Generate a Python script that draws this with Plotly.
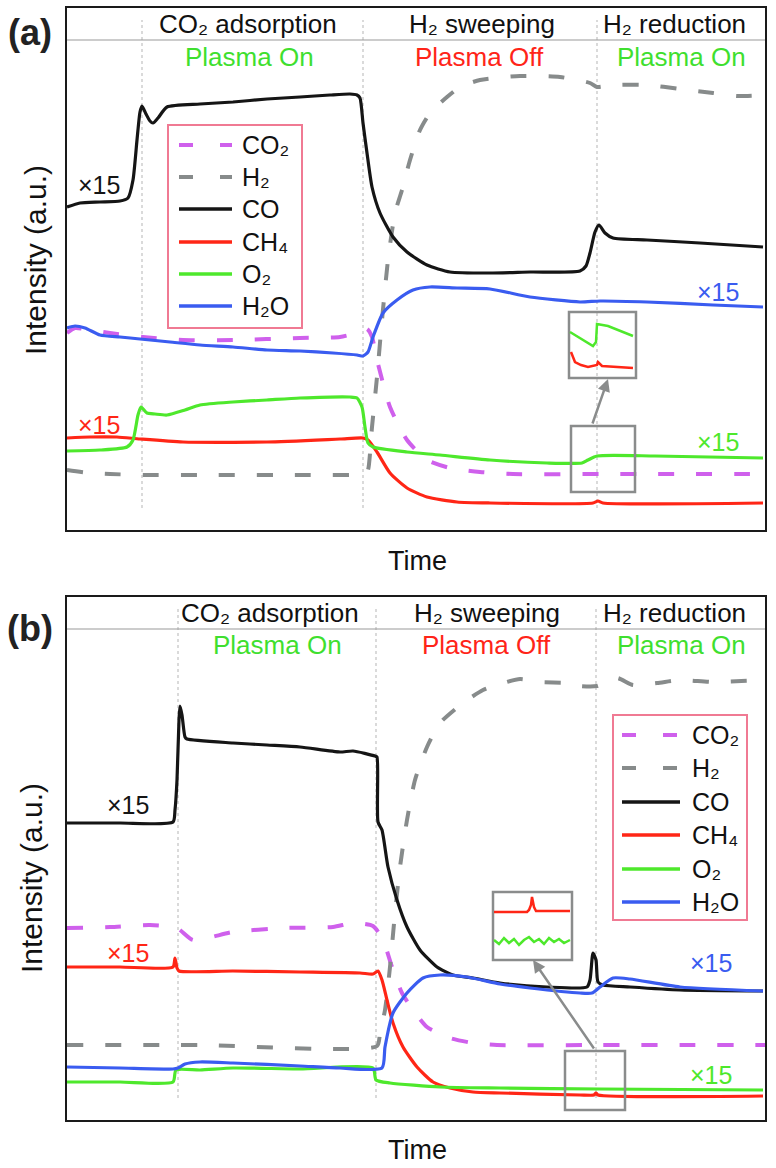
import plotly.graph_objects as go

# ---------------- Panel (a) data: time (a.u.) / intensity (a.u.) ----------------
A_CO2_T = [0, 8, 23, 43, 76, 116, 166, 233, 273, 293, 300, 305, 310, 323, 340, 360, 383, 413, 446, 533, 698]
A_CO2_V = [197, 202, 200, 197, 193, 190, 190, 192, 193, 198, 201, 193, 170, 123, 90, 70, 62, 58, 56, 56, 56]

A_H2_T = [0, 23, 43, 76, 133, 233, 283, 298, 301, 305, 310, 315, 321, 328, 335, 343, 353, 363, 380, 393,
          413, 453, 493, 523, 530, 546, 580, 613, 646, 670, 698]
A_H2_V = [60, 57, 56, 55, 55, 55, 55, 56, 60, 103, 153, 210, 270, 317, 340, 370, 400, 417, 433, 443,
          450, 454, 453, 447, 443, 445, 445, 441, 437, 434, 435]

A_CO_T = [0, 13, 33, 53, 61, 66, 70, 73, 75, 79, 83, 86, 91, 100, 133, 166, 200, 233, 263, 283,
          290, 293, 296, 300, 305, 313, 326, 340, 360, 383, 423, 463, 513, 519, 523, 528, 532, 538, 546, 580,
          633, 696]
A_CO_V = [323, 327, 328, 329, 332, 350, 390, 418, 424, 416, 409, 407, 412, 423, 426, 428, 431, 433, 435, 436,
          435, 432, 407, 377, 343, 317, 293, 278, 265, 258, 257, 258, 259, 264, 277, 298, 305, 297, 292, 290,
          287, 283]

A_CH4_T = [0, 23, 50, 73, 116, 200, 273, 296, 301, 310, 323, 340, 360, 390, 423, 526, 531, 536, 696]
A_CH4_V = [92, 93, 93, 91, 88, 88, 91, 92, 90, 78, 57, 42, 33, 28, 27, 27, 29, 27, 27]

A_O2_T = [0, 33, 60, 66, 71, 74, 80, 88, 100, 118, 133, 166, 200, 233, 283, 290, 295, 298, 301, 306,
          340, 373, 423, 480, 515, 521, 530, 588, 696]
A_O2_V = [79, 80, 83, 90, 115, 123, 117, 116, 115, 120, 125, 128, 130, 132, 133, 132, 123, 103, 87, 83,
          78, 75, 70, 67, 67, 70, 74, 74, 72]

A_H2O_T = [0, 8, 18, 33, 53, 73, 103, 133, 166, 200, 233, 266, 290, 296, 301, 306, 316, 330, 346, 363,
           390, 423, 463, 513, 533, 580, 646, 696]
A_H2O_V = [202, 204, 202, 195, 193, 191, 188, 185, 183, 180, 179, 177, 175, 174, 178, 193, 217, 230, 240, 243,
           242, 241, 233, 228, 229, 228, 225, 223]

# magnified inset (a)
A_INSET_O2_T = [503, 526, 529, 530, 541, 566]
A_INSET_O2_V = [198, 184, 188, 206, 204, 194]
A_INSET_CH4_T = [504, 508, 514, 521, 530, 531, 535, 566]
A_INSET_CH4_V = [178, 168, 165, 163, 165, 168, 164, 162]

# ---------------- Panel (b) data ----------------
B_CO2_T = [0, 43, 83, 110, 126, 166, 216, 266, 286, 306, 316, 325, 335, 346, 360, 383, 406, 430, 533, 698]
B_CO2_V = [192, 193, 195, 192, 180, 188, 192, 193, 197, 194, 180, 153, 127, 110, 93, 82, 77, 75, 75, 75]

B_H2_T = [0, 133, 310, 313, 318, 323, 328, 333, 340, 348, 360, 373, 396, 416, 433, 453, 473, 500, 513, 530,
          550, 566, 590, 613, 646, 698]
B_H2_V = [75, 75, 74, 87, 110, 153, 207, 253, 300, 340, 373, 397, 417, 430, 436, 441, 438, 437, 434, 434,
          442, 435, 437, 440, 438, 440]

B_CO_T = [0, 53, 106, 108, 110, 112, 113, 115, 118, 120, 166, 200, 233, 273, 286, 308, 310, 311, 315, 321,
          330, 340, 353, 370, 386, 406, 433, 480, 520, 523, 526, 529, 531, 536, 563, 613, 696]
B_CO_V = [297, 297, 298, 310, 340, 400, 414, 405, 383, 381, 377, 375, 373, 368, 369, 364, 363, 298, 290, 253,
          220, 193, 170, 153, 145, 142, 137, 133, 133, 140, 167, 160, 138, 135, 133, 130, 129]

B_CH4_T = [0, 53, 106, 108, 110, 112, 166, 233, 293, 306, 311, 315, 320, 326, 336, 350, 366, 383, 406, 433,
           513, 527, 529, 531, 696]
B_CH4_V = [153, 153, 153, 162, 152, 149, 149, 148, 147, 146, 149, 140, 120, 97, 73, 53, 38, 32, 28, 27,
           25, 25, 27, 25, 24]

B_O2_T = [0, 53, 106, 109, 133, 166, 233, 306, 309, 323, 373, 433, 533, 696]
B_O2_V = [38, 38, 38, 50, 50, 52, 51, 52, 40, 37, 33, 32, 31, 30]

B_H2O_T = [0, 53, 106, 111, 118, 133, 166, 233, 273, 315, 318, 326, 340, 356, 373, 400, 433, 463, 513, 525,
           533, 546, 563, 613, 696]
B_H2O_V = [53, 52, 51, 52, 56, 58, 57, 54, 52, 52, 73, 107, 127, 142, 145, 143, 136, 132, 127, 127,
           133, 142, 141, 133, 129]

# magnified inset (b)
B_INSET_CH4_T = [427, 445, 460, 462, 464, 465, 467, 469, 503]
B_INSET_CH4_V = [208, 208, 208, 210, 215, 223, 213, 209, 209]
B_INSET_O2_T = [427, 432, 437, 442, 447, 452, 457, 462, 467, 472, 477, 482, 487, 492, 497, 503]
B_INSET_O2_V = [180, 176, 182, 177, 181, 175, 180, 183, 178, 181, 176, 182, 178, 181, 177, 180]

SERIES = ["CO2", "H2", "CO", "CH4", "O2", "H2O"]
LABELS = ["CO\u2082", "H\u2082", "CO", "CH\u2084", "O\u2082", "H\u2082O"]
PHASES = ["CO\u2082 adsorption", "H\u2082 sweeping", "H\u2082 reduction"]
PLASMA = ["Plasma On", "Plasma Off", "Plasma On"]

# ---------------- styling ----------------
W, H = 776, 1168
FONT = "Liberation Sans, Arial, DejaVu Sans, sans-serif"
COL = {"CO2": "#cf60ec", "H2": "#878b8b", "CO": "#151515", "CH4": "#ff2616", "O2": "#4ee82c", "H2O": "#3a5cf0"}
PLASMA_COL = {"Plasma On": "#3fdf2f", "Plasma Off": "#ff2418"}
DASH = "16px,22px"
GRAY = "#8a8c8c"

# plot-area geometry (pixels) used only to place text in paper coordinates
X_LEFT, X_RIGHT = 67, 765
PANEL_BOTTOM = {"a": 530, "b": 1120}
PANEL_TOP = {"a": 8, "b": 597}
T_RANGE = 698
V_RANGE = {"a": 522, "b": 523}

fig = go.Figure()


def line(t, v, key, xa, ya, width=3.2, smooth=True):
    dashed = key in ("CO2", "H2")
    fig.add_trace(go.Scatter(
        x=t, y=v, mode="lines", name=key, xaxis=xa, yaxis=ya, showlegend=False, hoverinfo="skip",
        line=dict(color=COL[key], width=4 if dashed else width, dash=DASH if dashed else "solid",
                  shape="spline" if smooth else "linear", smoothing=0.6)))


panels = {
    "a": dict(xa="x", ya="y",
              data=[(A_CO2_T, A_CO2_V), (A_H2_T, A_H2_V), (A_CO_T, A_CO_V),
                    (A_CH4_T, A_CH4_V), (A_O2_T, A_O2_V), (A_H2O_T, A_H2O_V)],
              insets=[(A_INSET_O2_T, A_INSET_O2_V, "O2"), (A_INSET_CH4_T, A_INSET_CH4_V, "CH4")]),
    "b": dict(xa="x2", ya="y2",
              data=[(B_CO2_T, B_CO2_V), (B_H2_T, B_H2_V), (B_CO_T, B_CO_V),
                    (B_CH4_T, B_CH4_V), (B_O2_T, B_O2_V), (B_H2O_T, B_H2O_V)],
              insets=[(B_INSET_CH4_T, B_INSET_CH4_V, "CH4"), (B_INSET_O2_T, B_INSET_O2_V, "O2")]),
}

for p in panels.values():
    for (t, v), key in zip(p["data"], SERIES):
        line(t, v, key, p["xa"], p["ya"])
    for t, v, key in p["insets"]:
        line(t, v, key, p["xa"], p["ya"], width=2.5, smooth=False)

shapes = []
annotations = []


def to_paper(panel, t, v):
    """axis units of a panel -> paper fraction (for text placement)"""
    px = X_LEFT + t * (X_RIGHT - X_LEFT) / T_RANGE
    py = PANEL_BOTTOM[panel] - v * (PANEL_BOTTOM[panel] - PANEL_TOP[panel]) / V_RANGE[panel]
    return px / W, 1 - py / H


def text(panel, t, v, txt, size, color, xanchor="center"):
    x, y = to_paper(panel, t, v)
    annotations.append(dict(xref="paper", yref="paper", x=x, y=y, text=txt, showarrow=False,
                            font=dict(family=FONT, size=size, color=color), xanchor=xanchor, yanchor="middle"))


# layout geometry (per panel) in axis units
geo = {
    "a": dict(xr="x", yr="y", vlines=[75, 296, 530], vl_y=(22, 510), header=490, head_y=506, plasma_y=473,
              phase_x=[181, 415, 607], plasma_x=[182, 412, 614],
              inset=(502, 569, 152, 218), box=(504, 568, 38, 104), arrow=((525, 105), (541, 151)),
              x15=[(32, 345, "CO"), (32, 105, "CH4"), (651, 238, "H2O"), (651, 88, "O2")],
              legend=dict(box=(101, 235, 202, 405), s0=112, s1=165, tx=173,
                          ys=[385, 353, 321, 288, 256, 224])),
    "b": dict(xr="x2", yr="y2", vlines=[111, 309, 529], vl_y=(22, 512), header=491, head_y=507.5, plasma_y=475,
              phase_x=[203, 420, 607], plasma_x=[210, 419, 614],
              inset=(426, 505, 160, 228), box=(498, 558, 10, 69), arrow=((528, 70), (466, 160)),
              x15=[(61, 315, "CO"), (61, 167, "CH4"), (644, 157, "H2O"), (644, 45, "O2")],
              legend=dict(box=(546, 680, 200, 405), s0=555, s1=613, tx=623,
                          ys=[385, 352, 318, 285, 251, 218])),
}

for panel, g in geo.items():
    xr, yr = g["xr"], g["yr"]
    for xv in g["vlines"]:
        shapes.append(dict(type="line", xref=xr, yref=yr, x0=xv, x1=xv, y0=g["vl_y"][0], y1=g["vl_y"][1],
                           line=dict(color="#b5b5b5", width=1, dash="3px,3px"), layer="below"))
    shapes.append(dict(type="line", xref=xr, yref=yr, x0=0, x1=T_RANGE, y0=g["header"], y1=g["header"],
                       line=dict(color="#9a9a9a", width=1.2), layer="below"))
    for txt, xv in zip(PHASES, g["phase_x"]):
        text(panel, xv, g["head_y"], txt, 26, "#111111")
    for txt, xv in zip(PLASMA, g["plasma_x"]):
        text(panel, xv, g["plasma_y"], txt, 26, PLASMA_COL[txt])
    # inset boxes and arrow
    x0, x1, y0, y1 = g["inset"]
    shapes.append(dict(type="rect", xref=xr, yref=yr, x0=x0, x1=x1, y0=y0, y1=y1,
                       line=dict(color=GRAY, width=2.5), fillcolor="rgba(0,0,0,0)", layer="below"))
    x0, x1, y0, y1 = g["box"]
    shapes.append(dict(type="rect", xref=xr, yref=yr, x0=x0, x1=x1, y0=y0, y1=y1,
                       line=dict(color=GRAY, width=2.5), fillcolor="rgba(0,0,0,0)", layer="above"))
    (tx0, ty0), (hx, hy) = g["arrow"]
    annotations.append(dict(xref=xr, yref=yr, axref=xr, ayref=yr, x=hx, y=hy, ax=tx0, ay=ty0, text="",
                            showarrow=True, arrowhead=2, arrowsize=1, arrowwidth=2.5, arrowcolor=GRAY))
    for xv, yv, key in g["x15"]:
        text(panel, xv, yv, "\u00d715", 25, COL[key])
    # legend
    lg = g["legend"]
    bx0, bx1, by0, by1 = lg["box"]
    shapes.append(dict(type="rect", xref=xr, yref=yr, x0=bx0, x1=bx1, y0=by0, y1=by1,
                       line=dict(color="#f07a93", width=2), fillcolor="white", layer="above"))
    for key, lab, yv in zip(SERIES, LABELS, lg["ys"]):
        dashed = key in ("CO2", "H2")
        shapes.append(dict(type="line", xref=xr, yref=yr, x0=lg["s0"], x1=lg["s1"], y0=yv, y1=yv, layer="above",
                           line=dict(color=COL[key], width=4 if dashed else 3.5,
                                     dash="14px,27px" if dashed else "solid")))
        text(panel, lg["tx"], yv, lab, 25, "#111111", xanchor="left")


def paper(px, py):
    return px / W, 1 - py / H


for lab, (px, py) in (("(a)", (30, 32)), ("(b)", (30, 628))):
    x, y = paper(px, py)
    annotations.append(dict(xref="paper", yref="paper", x=x, y=y, text="<b>%s</b>" % lab, showarrow=False,
                            font=dict(family=FONT, size=36, color="#222222"), xanchor="center", yanchor="middle"))
for py in (561, 1150):
    x, y = paper(417, py)
    annotations.append(dict(xref="paper", yref="paper", x=x, y=y, text="Time", showarrow=False,
                            font=dict(family=FONT, size=27, color="#111111"), xanchor="center", yanchor="middle"))
for px, py in ((35, 260), (31, 878)):
    x, y = paper(px, py)
    annotations.append(dict(xref="paper", yref="paper", x=x, y=y, text="Intensity (a.u.)", showarrow=False,
                            textangle=-90, font=dict(family=FONT, size=30, color="#111111"),
                            xanchor="center", yanchor="middle"))

axis_common = dict(showline=True, mirror=True, linecolor="#1a1a1a", linewidth=2, showticklabels=False,
                   ticks="", showgrid=False, zeroline=False, fixedrange=True)
xd = [X_LEFT / W, X_RIGHT / W]
fig.update_layout(
    width=W, height=H, margin=dict(l=0, r=0, t=0, b=0),
    paper_bgcolor="white", plot_bgcolor="white", showlegend=False,
    xaxis=dict(domain=xd, range=[0, T_RANGE], anchor="y", **axis_common),
    yaxis=dict(domain=[1 - PANEL_BOTTOM["a"] / H, 1 - PANEL_TOP["a"] / H], range=[0, V_RANGE["a"]],
               anchor="x", **axis_common),
    xaxis2=dict(domain=xd, range=[0, T_RANGE], anchor="y2", **axis_common),
    yaxis2=dict(domain=[1 - PANEL_BOTTOM["b"] / H, 1 - PANEL_TOP["b"] / H], range=[0, V_RANGE["b"]],
                anchor="x2", **axis_common),
    shapes=shapes, annotations=annotations,
)

fig.write_html("out.html", config={"displayModeBar": False},
               post_script="document.body.style.margin='0px';document.body.style.padding='0px';")
